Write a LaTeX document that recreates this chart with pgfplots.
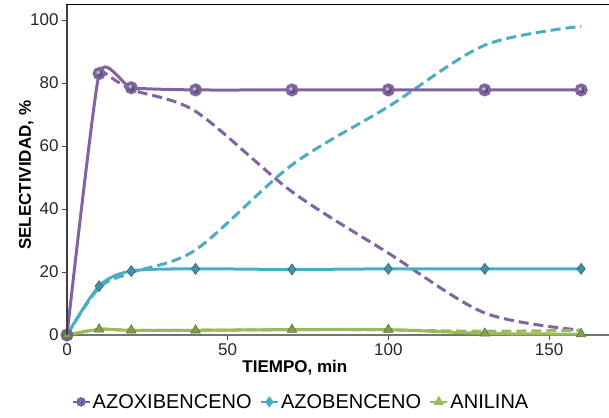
\documentclass[border=0pt]{standalone}
\usepackage{fontspec}
\setmainfont{Liberation Sans}
\usepackage{pgfplots}
\pgfplotsset{compat=1.18}
\definecolor{cpur}{HTML}{8064A2}
\definecolor{ccya}{HTML}{4BACC6}
\definecolor{cgre}{HTML}{9BBB59}
\begin{document}
\begin{tikzpicture}
\begin{axis}[
  scale only axis,
  width=546.3pt, height=330.75pt,
  xmin=0, xmax=170, ymin=0, ymax=105,
  xtick={0,50,100,150}, ytick={0,20,40,60,80,100},
  xtick pos=bottom, ytick pos=left,
  tick align=outside, major tick length=5pt,
  tick style={black!70, line width=0.7pt},
  axis line style={black!55, line width=1.2pt},
  /pgf/number format/assume math mode=true,
  ticklabel style={font=\fontsize{17}{19}\selectfont, text=black!85},
  xlabel={\textbf{TIEMPO,} \textbf{min}},
  ylabel={\textbf{SELECTIVIDAD, \%}},
  xlabel style={font=\fontsize{17}{19}\selectfont, at={(axis description cs:0.417,0)}, anchor=north, yshift=-22pt},
  ylabel style={font=\fontsize{17}{19}\selectfont, at={(axis description cs:0,0.483)}, anchor=south, yshift=30pt},
  legend style={draw=none, fill=none, font=\fontsize{20}{22}\selectfont, legend columns=-1,
    at={(axis description cs:0.428,0)}, anchor=north, yshift=-55pt,
    /tikz/every even column/.append style={column sep=6pt}},
  legend cell align=left,
  legend image code/.code={%
    \draw[#1, line width=2.4pt] (0pt,0pt) -- (17pt,0pt);
    \draw[#1, mark size=3.2pt, mark options={solid}] plot coordinates {(8.5pt,0pt)};},
  clip=false,
]
\addplot[cpur, line width=3pt, dash pattern=on 10pt off 5pt, smooth, forget plot]
  coordinates {(10,84.5)(20,78)(40,71)(70,45.5)(100,26)(130,7)(160,1.5)};
\addplot[ccya, line width=3pt, dash pattern=on 10pt off 5pt, smooth, forget plot]
  coordinates {(0,0)(10,15)(20,19.8)(40,27)(70,54)(100,72.5)(130,92)(160,98)};
\addplot[cgre, line width=3pt, dash pattern=on 10pt off 5pt, smooth, forget plot]
  coordinates {(0,0)(10,1.8)(20,1.5)(40,1.5)(70,1.7)(100,1.6)(130,1.2)(160,1.5)};
\addplot[cpur, line width=3pt, smooth, tension=0.3, mark=ball, mark size=5pt, mark options={ball color=cpur!85!black}]
  coordinates {(0,0)(10,83)(20,78.5)(40,77.8)(70,77.8)(100,77.8)(130,77.8)(160,77.8)};
\addlegendentry{AZOXIBENCENO}
\addplot[ccya, line width=3pt, smooth, mark=diamond*, mark size=5.5pt, mark options={fill=ccya!85!black, draw=ccya!60!black, line width=0.6pt}]
  coordinates {(0,0)(10,15.5)(20,20.3)(40,21)(70,20.8)(100,21)(130,21)(160,21)};
\addlegendentry{AZOBENCENO}
\addplot[cgre, line width=3pt, smooth, mark=triangle*, mark size=5.5pt, mark options={fill=cgre!85!black, draw=cgre!60!black, line width=0.6pt}]
  coordinates {(0,0)(10,1.8)(20,1.5)(40,1.5)(70,1.7)(100,1.7)(130,0.5)(160,0.3)};
\addlegendentry{ANILINA}
\end{axis}
\draw[black!75, line width=1.2pt] (0pt,0pt) -- (0pt,330.75pt);
\draw[black, line width=1.4pt] (-0.6pt,330.75pt) -- (546.3pt,330.75pt);
\pgfresetboundingbox
\path (-67pt,-82pt) rectangle (542pt,335pt);
\end{tikzpicture}
\end{document}
